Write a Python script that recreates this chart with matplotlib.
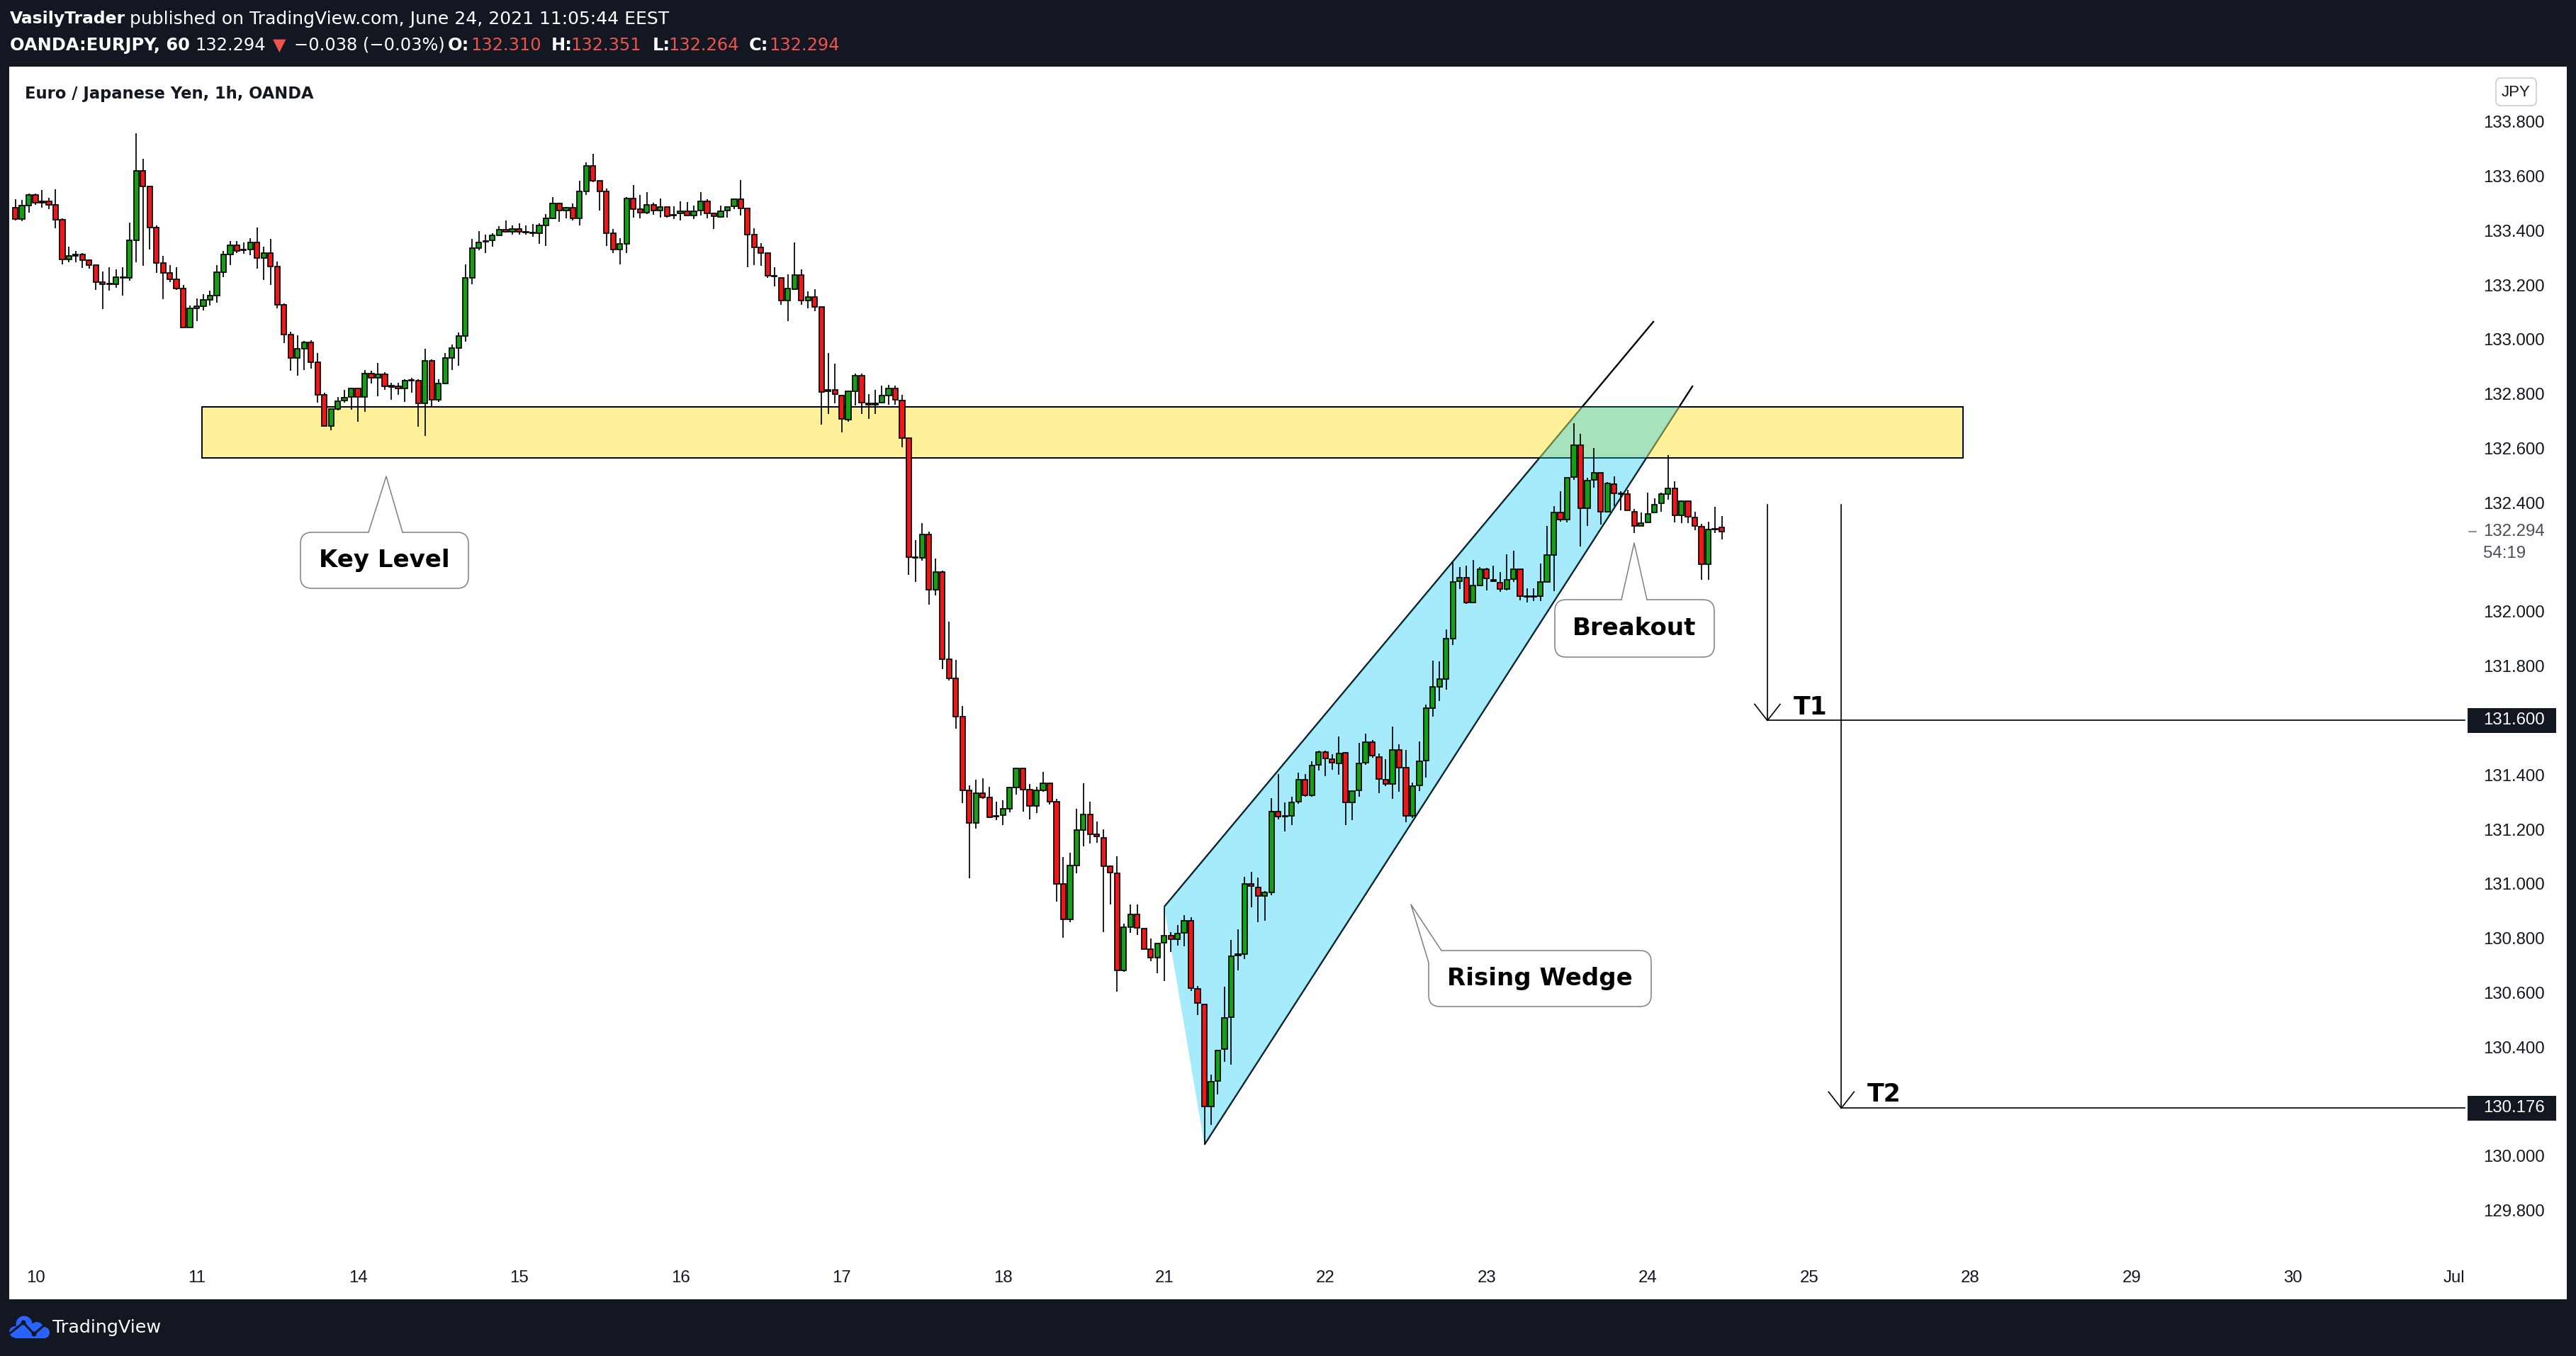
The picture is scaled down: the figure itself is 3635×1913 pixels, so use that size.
import numpy as np
import matplotlib.pyplot as plt
from matplotlib.patches import Rectangle, Polygon, FancyBboxPatch, Circle

plt.rcParams['font.family'] = ['DejaVu Sans']

# =============================================================================
# EURJPY 1h candles (OANDA), bar 0 = Jun 10 00:00, weekends skipped
first_bar = -3

opens = [
    133.483, 133.443, 133.491, 133.532, 133.508, 133.508, 133.493, 133.440, 133.293, 133.308,
    133.313, 133.290, 133.274, 133.211, 133.205, 133.203, 133.225, 133.225, 133.363, 133.618,
    133.561, 133.410, 133.282, 133.243, 133.220, 133.186, 133.043, 133.113, 133.123, 133.146,
    133.162, 133.248, 133.311, 133.346, 133.330, 133.330, 133.357, 133.300, 133.316, 133.267,
    133.126, 133.017, 132.931, 132.965, 132.988, 132.916, 132.796, 132.682, 132.745, 132.776,
    132.789, 132.819, 132.789, 132.875, 132.858, 132.873, 132.829, 132.827, 132.820, 132.851,
    132.849, 132.765, 132.922, 132.778, 132.839, 132.933, 132.969, 133.013, 133.227, 133.335,
    133.360, 133.363, 133.382, 133.403, 133.396, 133.407, 133.395, 133.393, 133.391, 133.420,
    133.446, 133.500, 133.473, 133.485, 133.444, 133.545, 133.637, 133.582, 133.543, 133.389,
    133.330, 133.350, 133.518, 133.478, 133.466, 133.493, 133.474, 133.487, 133.459, 133.462,
    133.471, 133.454, 133.473, 133.506, 133.462, 133.450, 133.473, 133.490, 133.515, 133.481,
    133.384, 133.337, 133.316, 133.234, 133.227, 133.142, 133.184, 133.237, 133.144, 133.156,
    133.118, 132.814, 132.814, 132.794, 132.704, 132.809, 132.868, 132.766, 132.759, 132.767,
    132.793, 132.819, 132.775, 132.637, 132.199, 132.198, 132.283, 132.080, 132.145, 131.825,
    131.754, 131.615, 131.343, 131.224, 131.333, 131.317, 131.251, 131.252, 131.275, 131.355,
    131.424, 131.347, 131.287, 131.344, 131.370, 131.302, 131.001, 130.870, 131.068, 131.198,
    131.256, 131.182, 131.170, 131.064, 131.039, 130.682, 130.842, 130.887, 130.836, 130.760,
    130.730, 130.784, 130.809, 130.796, 130.819, 130.865, 130.615, 130.558, 130.183, 130.275,
    130.392, 130.510, 130.741, 130.742, 130.999, 130.987, 130.956, 130.968, 131.266, 131.249,
    131.251, 131.303, 131.383, 131.326, 131.437, 131.483, 131.457, 131.443, 131.481, 131.298,
    131.344, 131.445, 131.520, 131.466, 131.383, 131.368, 131.492, 131.426, 131.251, 131.361,
    131.452, 131.645, 131.723, 131.751, 131.900, 132.112, 132.125, 132.033, 132.097, 132.156,
    132.116, 132.107, 132.084, 132.119, 132.155, 132.056, 132.056, 132.057, 132.109, 132.208,
    132.363, 132.338, 132.494, 132.612, 132.381, 132.484, 132.510, 132.368, 132.469, 132.435,
    132.431, 132.368, 132.316, 132.328, 132.363, 132.398, 132.433, 132.452, 132.355, 132.406,
    132.345, 132.313, 132.173, 132.305, 132.310]

highs = [
    133.515, 133.512, 133.535, 133.535, 133.549, 133.519, 133.551, 133.445, 133.340, 133.325,
    133.316, 133.294, 133.274, 133.249, 133.265, 133.257, 133.265, 133.429, 133.757, 133.663,
    133.561, 133.420, 133.307, 133.273, 133.265, 133.199, 133.124, 133.150, 133.165, 133.178,
    133.274, 133.325, 133.361, 133.361, 133.356, 133.372, 133.411, 133.340, 133.369, 133.286,
    133.132, 133.028, 133.015, 132.994, 132.997, 132.949, 132.803, 132.745, 132.789, 132.815,
    132.822, 132.819, 132.887, 132.884, 132.913, 132.879, 132.841, 132.840, 132.853, 132.860,
    132.853, 132.965, 132.927, 132.854, 132.949, 132.980, 133.025, 133.275, 133.368, 133.398,
    133.385, 133.389, 133.415, 133.437, 133.418, 133.426, 133.418, 133.424, 133.426, 133.460,
    133.523, 133.503, 133.487, 133.499, 133.583, 133.650, 133.682, 133.582, 133.554, 133.407,
    133.372, 133.522, 133.567, 133.531, 133.541, 133.502, 133.518, 133.487, 133.489, 133.506,
    133.505, 133.492, 133.541, 133.516, 133.462, 133.492, 133.488, 133.518, 133.586, 133.481,
    133.408, 133.354, 133.316, 133.266, 133.227, 133.240, 133.356, 133.258, 133.176, 133.184,
    133.118, 132.950, 132.911, 132.794, 132.809, 132.874, 132.874, 132.799, 132.815, 132.830,
    132.832, 132.830, 132.796, 132.637, 132.262, 132.325, 132.293, 132.194, 132.150, 131.964,
    131.823, 131.654, 131.361, 131.383, 131.387, 131.357, 131.302, 131.306, 131.356, 131.424,
    131.424, 131.366, 131.356, 131.411, 131.370, 131.311, 131.098, 131.114, 131.275, 131.370,
    131.302, 131.230, 131.200, 131.068, 131.102, 130.855, 130.923, 130.923, 130.836, 130.798,
    130.782, 130.915, 130.822, 130.848, 130.885, 130.878, 130.626, 130.558, 130.299, 130.389,
    130.623, 130.793, 130.832, 131.025, 131.043, 131.023, 130.973, 131.315, 131.404, 131.300,
    131.321, 131.409, 131.404, 131.450, 131.490, 131.490, 131.477, 131.542, 131.485, 131.344,
    131.517, 131.551, 131.528, 131.480, 131.458, 131.577, 131.512, 131.491, 131.371, 131.522,
    131.659, 131.821, 131.817, 131.934, 132.183, 132.164, 132.168, 132.191, 132.164, 132.160,
    132.168, 132.146, 132.211, 132.223, 132.155, 132.086, 132.086, 132.178, 132.315, 132.388,
    132.443, 132.492, 132.692, 132.654, 132.492, 132.602, 132.510, 132.477, 132.497, 132.443,
    132.447, 132.378, 132.365, 132.437, 132.415, 132.437, 132.574, 132.480, 132.408, 132.406,
    132.366, 132.323, 132.331, 132.385, 132.351]

lows = [
    133.438, 133.435, 133.466, 133.493, 133.485, 133.479, 133.409, 133.276, 133.284, 133.284,
    133.262, 133.260, 133.182, 133.112, 133.180, 133.190, 133.162, 133.216, 133.284, 133.271,
    133.331, 133.245, 133.149, 133.211, 133.182, 133.043, 133.043, 133.068, 133.107, 133.125,
    133.136, 133.229, 133.274, 133.317, 133.315, 133.310, 133.261, 133.219, 133.201, 133.115,
    132.987, 132.886, 132.866, 132.888, 132.893, 132.769, 132.682, 132.665, 132.738, 132.769,
    132.743, 132.697, 132.735, 132.839, 132.792, 132.814, 132.779, 132.796, 132.770, 132.803,
    132.678, 132.646, 132.754, 132.770, 132.835, 132.887, 132.904, 132.993, 133.203, 133.327,
    133.318, 133.340, 133.382, 133.394, 133.386, 133.386, 133.386, 133.376, 133.350, 133.344,
    133.443, 133.431, 133.444, 133.438, 133.420, 133.532, 133.577, 133.474, 133.344, 133.316,
    133.275, 133.316, 133.448, 133.446, 133.461, 133.459, 133.448, 133.448, 133.443, 133.437,
    133.452, 133.443, 133.454, 133.445, 133.407, 133.447, 133.448, 133.479, 133.454, 133.266,
    133.274, 133.271, 133.227, 133.195, 133.126, 133.067, 133.184, 133.126, 133.115, 133.104,
    132.687, 132.725, 132.766, 132.658, 132.698, 132.757, 132.725, 132.708, 132.725, 132.764,
    132.761, 132.761, 132.603, 132.135, 132.109, 132.186, 132.025, 132.060, 131.788, 131.747,
    131.569, 131.296, 131.020, 131.202, 131.313, 131.241, 131.235, 131.216, 131.264, 131.329,
    131.265, 131.238, 131.260, 131.339, 131.292, 130.934, 130.801, 130.859, 131.039, 131.139,
    131.148, 131.152, 130.824, 130.925, 130.605, 130.676, 130.819, 130.812, 130.760, 130.716,
    130.671, 130.642, 130.750, 130.772, 130.771, 130.606, 130.518, 130.042, 130.114, 130.227,
    130.345, 130.335, 130.682, 130.724, 130.914, 130.860, 130.865, 130.958, 131.236, 131.193,
    131.215, 131.295, 131.320, 131.320, 131.416, 131.395, 131.418, 131.401, 131.215, 131.234,
    131.320, 131.437, 131.463, 131.332, 131.358, 131.313, 131.338, 131.226, 131.241, 131.342,
    131.391, 131.615, 131.671, 131.712, 131.876, 132.084, 132.027, 132.032, 132.097, 132.078,
    132.108, 132.072, 132.079, 132.109, 132.042, 132.034, 132.039, 132.039, 132.109, 132.074,
    132.331, 132.328, 132.484, 132.240, 132.316, 132.455, 132.320, 132.365, 132.388, 132.373,
    132.371, 132.288, 132.316, 132.328, 132.363, 132.368, 132.411, 132.328, 132.325, 132.325,
    132.300, 132.116, 132.116, 132.288, 132.264]

closes = [
    133.443, 133.491, 133.532, 133.501, 133.503, 133.493, 133.440, 133.293, 133.306, 133.313,
    133.290, 133.274, 133.211, 133.203, 133.202, 133.228, 133.228, 133.363, 133.618, 133.561,
    133.410, 133.282, 133.243, 133.220, 133.186, 133.043, 133.113, 133.123, 133.146, 133.162,
    133.248, 133.311, 133.346, 133.326, 133.327, 133.357, 133.300, 133.316, 133.267, 133.126,
    133.017, 132.931, 132.965, 132.988, 132.916, 132.796, 132.682, 132.745, 132.774, 132.787,
    132.819, 132.789, 132.875, 132.858, 132.873, 132.827, 132.825, 132.820, 132.849, 132.849,
    132.765, 132.922, 132.778, 132.839, 132.933, 132.969, 133.013, 133.227, 133.335, 133.357,
    133.361, 133.381, 133.403, 133.396, 133.407, 133.396, 133.394, 133.391, 133.420, 133.446,
    133.500, 133.473, 133.485, 133.444, 133.545, 133.637, 133.582, 133.543, 133.389, 133.330,
    133.350, 133.518, 133.478, 133.466, 133.493, 133.474, 133.487, 133.452, 133.455, 133.471,
    133.454, 133.471, 133.506, 133.462, 133.452, 133.471, 133.487, 133.515, 133.481, 133.385,
    133.338, 133.317, 133.233, 133.230, 133.142, 133.186, 133.237, 133.142, 133.156, 133.118,
    132.807, 132.810, 132.799, 132.708, 132.809, 132.868, 132.767, 132.759, 132.766, 132.793,
    132.819, 132.777, 132.637, 132.200, 132.197, 132.283, 132.080, 132.145, 131.825, 131.754,
    131.615, 131.343, 131.224, 131.333, 131.317, 131.245, 131.248, 131.275, 131.355, 131.424,
    131.347, 131.287, 131.344, 131.370, 131.302, 131.001, 130.870, 131.068, 131.198, 131.256,
    131.182, 131.173, 131.065, 131.042, 130.682, 130.842, 130.887, 130.839, 130.760, 130.730,
    130.782, 130.809, 130.796, 130.817, 130.865, 130.618, 130.562, 130.183, 130.273, 130.389,
    130.508, 130.733, 130.737, 131.001, 130.991, 130.956, 130.968, 131.266, 131.248, 131.246,
    131.299, 131.383, 131.326, 131.435, 131.483, 131.460, 131.444, 131.480, 131.298, 131.342,
    131.442, 131.520, 131.471, 131.386, 131.368, 131.492, 131.428, 131.251, 131.360, 131.451,
    131.645, 131.723, 131.751, 131.900, 132.110, 132.125, 132.033, 132.097, 132.156, 132.121,
    132.111, 132.084, 132.117, 132.155, 132.057, 132.054, 132.054, 132.109, 132.208, 132.363,
    132.338, 132.492, 132.612, 132.381, 132.482, 132.510, 132.368, 132.470, 132.435, 132.432,
    132.371, 132.316, 132.326, 132.360, 132.393, 132.431, 132.452, 132.355, 132.406, 132.348,
    132.316, 132.173, 132.303, 132.303, 132.294]

day_labels = ['10', '11', '14', '15', '16', '17', '18', '21', '22', '23',
              '24', '25', '28', '29', '30', 'Jul']
price_ticks = [133.8, 133.6, 133.4, 133.2, 133.0, 132.8, 132.6, 132.4, 132.0,
               131.8, 131.4, 131.2, 131.0, 130.8, 130.6, 130.4, 130.0, 129.8]

# drawings on the chart
key_top, key_bottom = 132.753, 132.565
key_from, key_to = 24.8, 286.9
wedge_upper = [(168.0, 130.915), (240.9, 133.067)]
wedge_lower = [(174.0, 130.042), (246.7, 132.830)]
target_from = 132.394
t1, t2 = 131.600, 130.176
t1_bar, t2_bar = 257.8, 268.8
last_price = 132.294

# =============================================================================

W, H = 3635, 1913
DARK = '#131722'
GREEN = '#14a014'
RED = '#f21616'

fig = plt.figure(figsize=(W / 100, H / 100), dpi=100)
fig.patch.set_facecolor(DARK)

# background layer in pixel coordinates
bg = fig.add_axes([0, 0, 1, 1])
bg.set_xlim(0, W)
bg.set_ylim(H, 0)
bg.axis('off')
bg.add_patch(Rectangle((13, 94), 3609, 1739, fc='white', ec='none'))

# header
hdr = dict(color='white', va='center')
bg.text(14, 27, 'VasilyTrader', fontweight='bold', fontsize=16.8, **hdr)
bg.text(183, 27, 'published on TradingView.com, June 24, 2021 11:05:44 EEST',
        fontsize=18, **hdr)
pieces = [(14, 'OANDA:EURJPY, 60', 'white', 'bold'),
          (275, '132.294', 'white', 'normal'),
          (385, '\u25bc', '#ef5350', 'normal'),
          (415, '\u22120.038 (\u22120.03%)', 'white', 'normal'),
          (632, 'O:', 'white', 'bold'), (664, '132.310', '#ef5350', 'normal'),
          (778, 'H:', 'white', 'bold'), (805, '132.351', '#ef5350', 'normal'),
          (921, 'L:', 'white', 'bold'), (943, '132.264', '#ef5350', 'normal'),
          (1057, 'C:', 'white', 'bold'), (1085, '132.294', '#ef5350', 'normal')]
for px, s, col, wt in pieces:
    bg.text(px, 64, s, color=col, fontweight=wt, fontsize=17.4, va='center')

bg.text(35, 132, 'Euro / Japanese Yen, 1h, OANDA', color=DARK, fontsize=16.3,
        fontweight='bold', va='center')

# currency badge
bg.add_patch(FancyBboxPatch((3522, 110), 57, 39,
                            boxstyle='round,pad=0,rounding_size=7',
                            fc='white', ec='#c9cdd8', lw=1.2))
bg.text(3550.5, 130, 'JPY', color=DARK, fontsize=16, ha='center', va='center',
        family='Liberation Sans')

# TradingView logo at the bottom
blue = '#2962ff'
for cx, cy, r in ((34, 1868, 11.5), (52, 1874, 9), (21, 1879, 8), (62, 1880, 8)):
    bg.add_patch(Circle((cx, cy), r, fc=blue, ec='none'))
bg.add_patch(Rectangle((21, 1874), 41, 14, fc=blue, ec='none'))
bg.plot([14, 33, 48, 63], [1881, 1866, 1882, 1869], color=DARK, lw=2.2)
bg.add_patch(Circle((33, 1866), 3.5, fc=DARK))
bg.add_patch(Circle((48, 1882), 3.5, fc=DARK))
bg.text(74, 1873, 'TradingView', color='white', fontsize=18.3, va='center')

# =============================================================================
# price chart
L, R, T, B = 13, 3478, 94, 1765
ax = fig.add_axes([L / W, 1 - B / H, (R - L) / W, (B - T) / H])
ax.patch.set_alpha(0)
ax.set_xlim(-3.903, 361.60)
ax.set_ylim(129.651, 134.002)
for s in ax.spines.values():
    s.set_visible(False)

ax.yaxis.tick_right()
ax.set_yticks(price_ticks)
ax.set_yticklabels([f'{p:.3f}' for p in price_ticks])
ax.tick_params(axis='y', length=0, pad=18.5, labelsize=17.3, labelcolor=DARK)
ax.set_xticks(np.arange(len(day_labels)) * 24)
ax.set_xticklabels(day_labels)
ax.tick_params(axis='x', length=0, pad=19.5, labelsize=17.3, labelcolor=DARK)
for lbl in ax.get_xticklabels() + ax.get_yticklabels():
    lbl.set_fontfamily('Liberation Sans')

# candles
x = np.arange(len(opens)) + first_bar
o = np.array(opens)
h = np.array(highs)
l = np.array(lows)
c = np.array(closes)
ax.vlines(x, l, h, color='black', lw=1.25, zorder=5)
ax.bar(x, c - o, bottom=o, width=0.76, color=np.where(c >= o, GREEN, RED),
       edgecolor='black', linewidth=1.25, zorder=6)


def on_line(line, price):
    (x1, p1), (x2, p2) = line
    return x1 + (price - p1) * (x2 - x1) / (p2 - p1)


# wedge lines, then the translucent key level box and wedge fill over them
for line in (wedge_upper, wedge_lower):
    ax.plot(*zip(*line), color='black', lw=1.7, zorder=1, solid_capstyle='butt')
ax.add_patch(Rectangle((key_from, key_bottom), key_to - key_from, key_top - key_bottom,
                       fc='#ffe537', alpha=0.5, ec='none', zorder=2))
ax.add_patch(Rectangle((key_from, key_bottom), key_to - key_from, key_top - key_bottom,
                       fc='none', ec='black', lw=1.4, zorder=2.5))
wedge_fill = [wedge_upper[0], wedge_lower[0],
              (on_line(wedge_lower, key_top), key_top),
              (on_line(wedge_upper, key_top), key_top)]
ax.add_patch(Polygon(wedge_fill, closed=True, fc='#0ec9f7', alpha=0.37, ec='none',
                     zorder=3))

# targets
xr = ax.get_xlim()[1]
for bar, target, name in ((t1_bar, t1, 'T1'), (t2_bar, t2, 'T2')):
    ax.plot([bar, bar], [target_from, target], color='black', lw=1.2, zorder=7)
    ax.plot([bar, xr], [target, target], color='black', lw=1.2, zorder=7,
            clip_on=False)
    ax.plot([bar - 1.9, bar, bar + 1.9], [target + 0.06, target, target + 0.06],
            color='black', lw=1.2, zorder=7)
    ax.text(bar + 3.9, target + 0.005, name, fontsize=25, fontweight='bold',
            va='bottom', zorder=8)

yax = ax.get_yaxis_transform()
lab_x = 1.0075
for target in (t1, t2):
    ax.add_patch(Rectangle((1.0012, target - 0.0455), 0.0361, 0.091, transform=yax,
                           fc=DARK, ec='none', clip_on=False, zorder=8))
    ax.text(lab_x, target, f'{target:.3f}', transform=yax, color='white',
            fontsize=17.3, family='Liberation Sans', va='center', zorder=9)

ax.plot([1.0017, 1.0045], [last_price, last_price], transform=yax, color='#787b86',
        lw=1.2, clip_on=False)
ax.text(lab_x, last_price, f'{last_price:.3f}', transform=yax, color='#4a4e5a',
        fontsize=17.3, family='Liberation Sans', va='center')
ax.annotate('54:19', (lab_x, last_price), xycoords=yax, xytext=(0, -22),
            textcoords='offset points', color='#4a4e5a', fontsize=17.3,
            family='Liberation Sans', va='center')

# =============================================================================
# callouts (pixel coordinates)
ov = fig.add_axes([0, 0, 1, 1], zorder=5)
ov.set_xlim(0, W)
ov.set_ylim(H, 0)
ov.axis('off')


def callout(box, pointer, cover, text):
    x0, y0, x1, y1 = box
    ov.add_patch(FancyBboxPatch((x0, y0), x1 - x0, y1 - y0,
                                boxstyle='round,pad=0,rounding_size=16',
                                fc='white', ec='#7f7f7f', lw=1.1))
    ov.add_patch(Polygon(cover, closed=True, fc='white', ec='none', zorder=3))
    px, py = zip(*pointer)
    ov.plot(px, py, color='#7f7f7f', lw=1.1, zorder=4)
    ov.text((x0 + x1) / 2, (y0 + y1) / 2, text, ha='center', va='center',
            fontsize=24.5, fontweight='bold', color='black', zorder=5)


callout((424, 751, 661, 830),
        [(520, 751), (545, 672), (568, 751)],
        [(520, 751), (545, 672), (568, 751), (568, 755), (520, 755)],
        'Key Level')
callout((2194, 846, 2419, 927),
        [(2288, 846), (2306, 766), (2324, 846)],
        [(2288, 846), (2306, 766), (2324, 846), (2324, 850), (2288, 850)],
        'Breakout')
callout((2016, 1341, 2330, 1420),
        [(2016, 1358), (1991, 1276), (2034, 1341)],
        [(2016, 1358), (1991, 1276), (2034, 1341), (2036, 1345), (2020, 1362)],
        'Rising Wedge')

fig.savefig('out.png', dpi=100, facecolor=DARK)
